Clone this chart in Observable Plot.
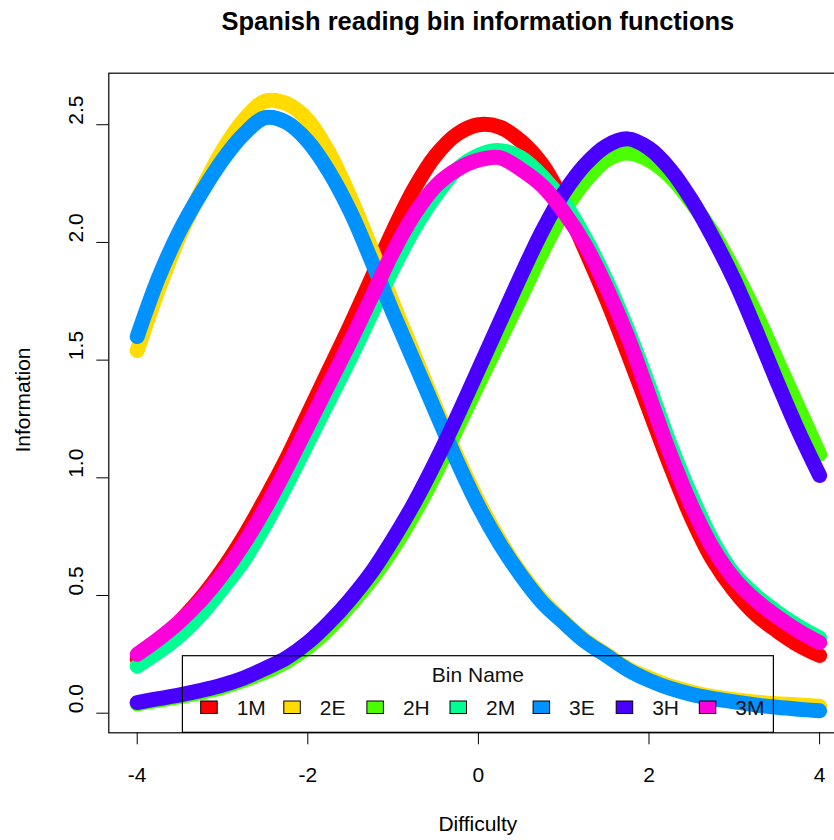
<!DOCTYPE html>
<html>
<head>
<meta charset="utf-8">
<script src="https://cdn.jsdelivr.net/npm/d3@7"></script>
<script src="https://cdn.jsdelivr.net/npm/@observablehq/plot@0.6"></script>
<style>
  html, body { margin: 0; padding: 0; background: white; overflow: hidden; }
  #wrap { position: relative; width: 834px; height: 840px; overflow: hidden; font-family: "Liberation Sans", Arial, sans-serif; }
  #wrap svg { position: absolute; left: 0; top: 0; max-width: none !important; width: 870px !important; height: 840px !important; }
  .lbl { position: absolute; color: #000; white-space: nowrap; }
</style>
</head>
<body>
<div id="wrap"></div>
<script>
// ---- data ----
const xs = [-4, -3.75, -3.5, -3.25, -3, -2.75, -2.5, -2.25, -2, -1.75, -1.5, -1.25, -1, -0.75, -0.5, -0.25,
            0, 0.25, 0.5, 0.75, 1, 1.25, 1.5, 1.75, 2, 2.25, 2.5, 2.75, 3, 3.25, 3.5, 3.75, 4];

const bins = ["1M", "2E", "2H", "2M", "3E", "3H", "3M"];
const binColors = ["#FF0000", "#FFDB00", "#49FF00", "#00FF92", "#0092FF", "#4900FF", "#FF00DB"];

const info1M = [0.23, 0.30, 0.39, 0.49, 0.61, 0.75, 0.91, 1.08, 1.27, 1.46, 1.65, 1.85, 2.05, 2.23, 2.37, 2.46,
                2.50, 2.49, 2.43, 2.33, 2.17, 1.97, 1.76, 1.53, 1.29, 1.05, 0.83, 0.65, 0.52, 0.42, 0.35, 0.29, 0.245];
const info2E = [1.54, 1.80, 2.03, 2.22, 2.39, 2.52, 2.60, 2.59, 2.52, 2.38, 2.19, 1.97, 1.74, 1.52, 1.30, 1.09,
                0.90, 0.735, 0.595, 0.48, 0.39, 0.31, 0.25, 0.19, 0.15, 0.115, 0.09, 0.07, 0.057, 0.047, 0.04, 0.035, 0.03];
const info2H = [0.04, 0.055, 0.07, 0.088, 0.11, 0.14, 0.175, 0.22, 0.28, 0.36, 0.46, 0.57, 0.70, 0.85, 1.02, 1.21,
                1.40, 1.585, 1.77, 1.96, 2.13, 2.26, 2.35, 2.38, 2.35, 2.28, 2.17, 2.04, 1.88, 1.70, 1.50, 1.30, 1.10];
const info2M = [0.20, 0.26, 0.33, 0.42, 0.53, 0.65, 0.80, 0.97, 1.15, 1.33, 1.51, 1.70, 1.89, 2.06, 2.20, 2.31,
                2.37, 2.39, 2.36, 2.28, 2.17, 2.02, 1.84, 1.63, 1.39, 1.14, 0.92, 0.73, 0.59, 0.50, 0.43, 0.37, 0.32];
const info3E = [1.60, 1.85, 2.05, 2.21, 2.35, 2.46, 2.53, 2.51, 2.43, 2.30, 2.13, 1.92, 1.70, 1.49, 1.28, 1.07,
                0.88, 0.72, 0.585, 0.47, 0.385, 0.305, 0.245, 0.185, 0.14, 0.105, 0.08, 0.062, 0.048, 0.035, 0.025, 0.017, 0.01];
const info3H = [0.045, 0.062, 0.078, 0.097, 0.12, 0.15, 0.19, 0.235, 0.30, 0.385, 0.485, 0.60, 0.74, 0.895, 1.07, 1.26,
                1.46, 1.66, 1.86, 2.05, 2.21, 2.33, 2.41, 2.44, 2.40, 2.31, 2.18, 2.02, 1.84, 1.63, 1.41, 1.20, 1.01];
const info3M = [0.25, 0.315, 0.39, 0.48, 0.59, 0.72, 0.87, 1.04, 1.22, 1.40, 1.58, 1.77, 1.96, 2.12, 2.24, 2.31,
                2.35, 2.36, 2.31, 2.24, 2.13, 1.99, 1.81, 1.60, 1.35, 1.10, 0.88, 0.70, 0.57, 0.48, 0.41, 0.35, 0.30];

const xTicks = [-4, -2, 0, 2, 4];
const yTicks = [0, 0.5, 1, 1.5, 2, 2.5];

const titleText = "Spanish reading bin information functions";
const xLabel = "Difficulty";
const yLabel = "Information";
const legendTitle = "Bin Name";

// ---- build table ----
const infoByBin = [info1M, info2E, info2H, info2M, info3E, info3H, info3M];
const rows = bins.flatMap((b, i) => xs.map((x, j) => ({bin: b, x, info: infoByBin[i][j]})));

const FONT = "'Liberation Sans', Arial, sans-serif";

const plot = Plot.plot({
  width: 870,
  height: 840,
  marginLeft: 108.3,
  marginRight: 22.5,
  marginTop: 72.7,
  marginBottom: 107.7,
  style: {fontFamily: FONT, fontSize: "21px", background: "white", color: "black", maxWidth: "none"},
  x: {domain: [-4.333, 4.333]},
  y: {domain: [-0.0833, 2.719]},
  color: {domain: bins, range: binColors},
  marks: [
    Plot.line(rows, {x: "x", y: "info", z: "bin", stroke: "bin", strokeWidth: 15,
                     strokeLinecap: "round", strokeLinejoin: "round", curve: "catmull-rom"}),
    Plot.frame({stroke: "black", strokeWidth: 1.2}),
    Plot.axisX(xTicks, {tickSize: 12, tickPadding: 22, tickFormat: d => String(d), fontSize: 21, label: null, stroke: "black"}),
    Plot.axisY(yTicks, {tickSize: 12, tickFormat: () => "", label: null, stroke: "black"}),
    Plot.text(yTicks, {y: d => d, text: d => d.toFixed(1), rotate: -90, frameAnchor: "left", dx: -33, fontSize: 21, fill: "black"})
  ]
});

const wrap = document.getElementById("wrap");
wrap.appendChild(plot);

// ---- legend (R-style, horizontal, boxed, transparent background) ----
const xs0 = plot.scale("x");
const cx = xs0.apply(0);
const svg = d3.select(plot);
const lg = svg.append("g").attr("font-family", FONT).attr("font-size", 21).attr("text-anchor", "start");
const boxW = 591, boxTop = 655.7, boxBottom = 732.3;
lg.append("rect")
  .attr("x", cx - boxW / 2).attr("y", boxTop)
  .attr("width", boxW).attr("height", boxBottom - boxTop)
  .attr("fill", "none").attr("stroke", "black").attr("stroke-width", 1.2);
lg.append("text").attr("x", cx).attr("y", 681.7).attr("text-anchor", "middle").attr("fill", "#111").text(legendTitle);
const step = 83.1;
const firstSq = cx - boxW / 2 + 18.3;
bins.forEach((b, i) => {
  const sx = firstSq + i * step;
  lg.append("rect").attr("x", sx).attr("y", 701).attr("width", 16.5).attr("height", 12.5)
    .attr("fill", binColors[i]).attr("stroke", "black").attr("stroke-width", 1);
  lg.append("text").attr("x", sx + 36).attr("y", 715).attr("text-anchor", "start").attr("fill", "#111").text(b);
});

// ---- titles ----
function addLabel(text, css) {
  const d = document.createElement("div");
  d.className = "lbl";
  d.textContent = text;
  Object.assign(d.style, css);
  wrap.appendChild(d);
  return d;
}
const t = addLabel(titleText, {fontWeight: "bold", fontSize: "25.5px", top: "0px", left: "0px"});
t.style.left = (cx - t.offsetWidth / 2) + "px";
t.style.top = "7px";

const xl = addLabel(xLabel, {fontSize: "21px", top: "0px", left: "0px"});
xl.style.left = (cx - xl.offsetWidth / 2) + "px";
xl.style.top = "812px";

const yl = addLabel(yLabel, {fontSize: "21px", top: "0px", left: "0px", transformOrigin: "center center"});
const yw = yl.offsetWidth, yh = yl.offsetHeight;
yl.style.left = (22 - yw / 2) + "px";
yl.style.top = (400 - yh / 2) + "px";
yl.style.transform = "rotate(-90deg)";
</script>
</body>
</html>
